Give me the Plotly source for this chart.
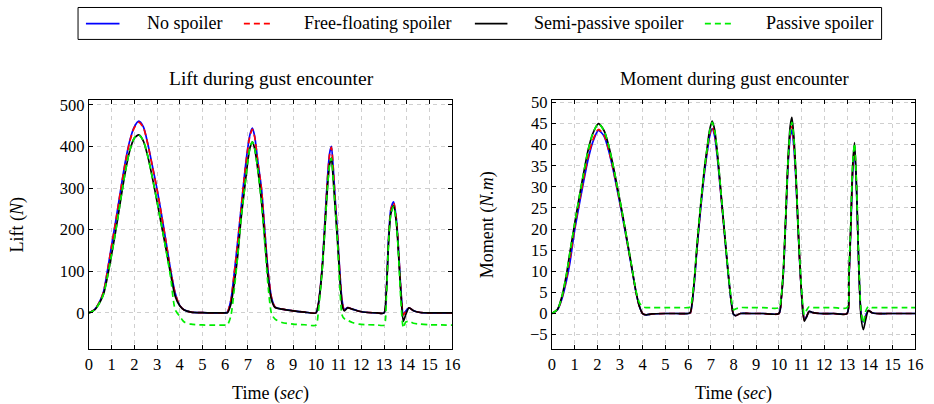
import plotly.graph_objects as go

# ---------------- data: lift ----------------
T_LIFT = [0, 0.25, 0.5, 0.65, 0.8, 1.0, 1.2, 1.4, 1.6, 1.8, 2.0, 2.2, 2.4, 2.6, 2.8, 3.0, 3.2, 3.4, 3.6, 3.8, 4.0, 4.2, 4.5, 5.0, 5.5, 6.0,
          6.1, 6.25, 6.4, 6.55, 6.7, 6.85, 7.0, 7.1, 7.2, 7.3, 7.45, 7.6, 7.75, 7.9, 8.05, 8.2, 8.5, 9.0, 9.5, 10.0,
          10.1, 10.2, 10.3, 10.4, 10.5, 10.6, 10.68, 10.76, 10.85, 10.95, 11.05, 11.15, 11.25, 11.4, 11.6, 11.9, 12.3, 12.7, 13.0,
          13.1, 13.2, 13.3, 13.42, 13.55, 13.65, 13.75, 13.85, 13.95, 14.1, 14.3, 14.6, 15.0, 15.5, 16.0]

LIFT_NO = [0, 8, 30, 52, 96, 162, 227, 296, 362, 414, 447, 461, 447, 405, 352, 298, 236, 170, 103, 48, 18, 7, 2, 0.5, 0, 0,
           2, 30, 95, 170, 250, 330, 398, 430, 444, 425, 360, 300, 195, 95, 35, 14, 9, 5, 2, 0,
           20, 65, 132, 225, 318, 383, 400, 350, 272, 190, 100, 30, 8, 13, 9, 4, 1, 0, 0,
           55, 180, 250, 267, 222, 140, 48, -3, 4, 12, 5, 1, 0, 0, 0]

LIFT_FREE = [0, 8, 30, 52, 95, 161, 226, 295, 360, 412, 445, 458, 445, 404, 351, 297, 235, 169, 102, 47, 18, 7, 2, 0.5, 0, 0,
             2, 29, 94, 168, 248, 328, 395, 427, 441, 423, 358, 298, 194, 94, 35, 14, 9, 5, 2, 0,
             20, 64, 130, 223, 315, 380, 398, 349, 271, 189, 99, 29, 6, 13, 9, 4, 1, 0, 0,
             54, 178, 248, 265, 221, 139, 46, -5, 3, 12, 5, 1, 0, 0, 0]

LIFT_SEMI = [0, 7, 27, 46, 82, 140, 203, 272, 338, 390, 420, 428, 413, 375, 324, 268, 210, 152, 93, 40, 17, 7, 2, 0.5, 0, 0,
             0, 20, 70, 135, 225, 295, 365, 398, 411, 395, 340, 270, 175, 80, 30, 13, 9, 5, 2, 0,
             18, 60, 122, 208, 295, 356, 372, 322, 250, 172, 85, 20, 5, 12, 9, 4, 1, 0, 0,
             50, 170, 238, 258, 212, 130, 40, -20, -5, 12, 5, 1, 0, 0, 0]

LIFT_PASSIVE = [0, 7, 27, 46, 82, 140, 203, 272, 338, 390, 420, 428, 413, 375, 324, 268, 210, 150, 85, 8, -8, -22, -27, -29, -29.5, -29.5,
                -29, -8, 55, 135, 225, 295, 365, 398, 411, 395, 340, 265, 165, 60, -3, -15, -23, -27, -28.5, -29.5,
                0, 55, 122, 208, 295, 356, 372, 322, 250, 170, 65, -5, -14, -18, -23, -27, -28.5, -29, -29.5,
                35, 170, 238, 256, 210, 125, 20, -36, -22, -20, -25, -27, -28.5, -29, -29.5]

# ---------------- data: moment ----------------
T_MOM = [0, 0.25, 0.45, 0.65, 0.8, 1.0, 1.2, 1.4, 1.6, 1.8, 2.05, 2.3, 2.5, 2.7, 2.9, 3.1, 3.3, 3.5, 3.7, 3.85, 4.0, 4.15, 4.4, 5.0, 5.5, 6.0,
         6.1, 6.25, 6.4, 6.55, 6.7, 6.85, 6.95, 7.06, 7.17, 7.3, 7.45, 7.6, 7.75, 7.9, 8.0, 8.1, 8.3, 8.7, 9.3, 10.0,
         10.1, 10.2, 10.3, 10.4, 10.5, 10.57, 10.65, 10.75, 10.85, 10.95, 11.05, 11.12, 11.22, 11.33, 11.5, 11.8, 12.4, 13.0,
         13.08, 13.16, 13.25, 13.33, 13.42, 13.52, 13.62, 13.72, 13.82, 13.94, 14.1, 14.3, 14.8, 15.5, 16.0]

MOM_NO = [0, 0.9, 3.6, 8.0, 12.2, 19.6, 25.6, 31.3, 36.6, 40.6, 43.4, 42.0, 38.6, 34.0, 28.7, 23.2, 17.3, 11.3, 5.2, 1.8, 0.0, -0.3, -0.1, 0, 0, 0,
          0.2, 6.0, 15.8, 24.6, 32.4, 38.5, 42.0, 43.8, 42.0, 36.4, 27.8, 19.0, 10.3, 2.8, -0.2, -0.5, 0, 0, 0, 0,
          3.3, 10.0, 22.0, 34.8, 42.0, 43.5, 40.0, 31.5, 19.3, 8.8, 1.0, -1.5, -0.7, 0.5, 0.2, 0, 0, 0,
          7.5, 19.0, 33.5, 39.0, 29.0, 10.7, 0.0, -2.0, -0.5, 0.7, 0.2, 0, 0, 0, 0]

MOM_FREE = [0, 0.95, 3.8, 8.5, 13.0, 20.2, 26.2, 31.9, 37.2, 41.0, 43.6, 42.2, 38.8, 34.2, 28.9, 23.4, 17.4, 11.4, 5.2, 1.8, 0.0, -0.3, -0.1, 0, 0, 0,
            0.2, 6.2, 16.0, 24.9, 32.8, 38.9, 42.5, 44.2, 42.4, 36.7, 28.0, 19.1, 10.4, 2.8, -0.2, -0.5, 0, 0, 0, 0,
            3.4, 10.2, 22.4, 35.4, 42.8, 44.3, 40.8, 32.0, 19.6, 8.9, 1.0, -1.6, -0.7, 0.5, 0.2, 0, 0, 0,
            7.7, 19.4, 34.0, 39.5, 29.4, 10.8, 0.0, -2.2, -0.6, 0.7, 0.2, 0, 0, 0, 0]

MOM_SEMI = [0, 1.0, 4.2, 9.5, 14.6, 21.2, 27.4, 33.3, 38.8, 42.6, 45.0, 43.3, 39.8, 35.0, 29.5, 23.9, 17.8, 11.6, 5.3, 1.8, 0.0, -0.3, -0.1, 0, 0, 0,
            0.3, 6.5, 16.5, 25.5, 33.5, 39.8, 43.5, 45.6, 43.5, 37.5, 28.5, 19.5, 10.5, 2.8, -0.2, -0.5, 0, 0, 0, 0,
            3.5, 10.5, 23.0, 36.5, 44.5, 46.5, 42.5, 33.0, 20.0, 9.0, 1.0, -1.8, -0.8, 0.5, 0.2, 0, 0, 0,
            8.0, 20.0, 35.0, 40.5, 30.0, 11.0, -1.0, -3.8, -1.5, 0.7, 0.2, 0, 0, 0, 0]

MOM_PASSIVE = [0, 1.0, 4.2, 9.5, 14.6, 21.2, 27.4, 33.3, 38.8, 42.6, 45.0, 43.3, 39.8, 35.0, 29.5, 23.9, 17.8, 11.7, 5.5, 2.6, 1.6, 1.4, 1.4, 1.4, 1.4, 1.4,
               1.6, 7.0, 16.8, 25.6, 33.4, 39.6, 43.2, 45.3, 43.3, 37.5, 28.6, 19.7, 10.8, 3.5, 0.9, 1.1, 1.4, 1.4, 1.4, 1.4,
               4.0, 11.0, 23.2, 36.0, 43.5, 45.3, 42.0, 33.0, 20.5, 9.8, 2.2, -0.3, 0.8, 1.6, 1.4, 1.4, 1.4, 1.4,
               9.0, 21.0, 35.5, 40.3, 30.5, 12.0, 0.5, -2.3, 0.5, 1.7, 1.4, 1.4, 1.4, 1.4, 1.4]

SERIES_NAMES = ["No spoiler", "Free-floating spoiler", "Semi-passive spoiler", "Passive spoiler"]
X_TICKS = list(range(0, 17))
LIFT_TICKS = [0, 100, 200, 300, 400, 500]
MOM_TICKS = [-5, 0, 5, 10, 15, 20, 25, 30, 35, 40, 45, 50]

# ---------------- styling ----------------
W, H = 934, 404
FONT = "Liberation Serif, Times New Roman, serif"
COLORS = ["#0000ff", "#ff0000", "#000000", "#00ee00"]
DASHES = ["solid", "6px,4px", "solid", "6px,4px"]
TXT = 18
LW = 1.7


def px(x):
    return x / W


def py(y):
    return 1 - y / H


fig = go.Figure()

lift_sets = [LIFT_NO, LIFT_FREE, LIFT_SEMI, LIFT_PASSIVE]
mom_sets = [MOM_NO, MOM_FREE, MOM_SEMI, MOM_PASSIVE]
for i, name in enumerate(SERIES_NAMES):
    fig.add_trace(go.Scatter(x=T_LIFT, y=lift_sets[i], mode="lines", name=name,
                             line=dict(color=COLORS[i], width=LW, dash=DASHES[i], shape="spline", smoothing=0.7),
                             showlegend=False, xaxis="x", yaxis="y"))
for i, name in enumerate(SERIES_NAMES):
    fig.add_trace(go.Scatter(x=T_MOM, y=mom_sets[i], mode="lines", name=name,
                             line=dict(color=COLORS[i], width=LW, dash=DASHES[i], shape="spline", smoothing=0.7),
                             showlegend=False, xaxis="x2", yaxis="y2"))

common_axis = dict(
    showline=True, linecolor="black", linewidth=1, mirror="ticks",
    ticks="inside", ticklen=4, tickcolor="black", tickwidth=1,
    showgrid=True, gridcolor="#cfcfcf", gridwidth=1, griddash="4px,4px",
    zeroline=False, tickfont=dict(family=FONT, size=16.5, color="black"),
)

ydom = [py(348), py(95)]
fig.update_layout(
    width=W, height=H,
    margin=dict(l=0, r=0, t=0, b=0),
    paper_bgcolor="white", plot_bgcolor="white",
    font=dict(family=FONT, size=TXT, color="black"),
    showlegend=False,
    xaxis=dict(domain=[px(86), px(454)], range=[0, 16], tickvals=X_TICKS, anchor="y",
               title=dict(text="Time (<i>sec</i>)", standoff=18, font=dict(family=FONT, size=TXT)),
               **common_axis),
    yaxis=dict(domain=ydom, range=[-86.7, 510.8], tickvals=LIFT_TICKS, anchor="x",
               title=dict(text="Lift (<i>N</i>)", standoff=31, font=dict(family=FONT, size=TXT)),
               **common_axis),
    xaxis2=dict(domain=[px(555), px(923)], range=[0, 16], tickvals=X_TICKS, anchor="y2",
                title=dict(text="Time (<i>sec</i>)", standoff=18, font=dict(family=FONT, size=TXT)),
                **common_axis),
    yaxis2=dict(domain=ydom, range=[-8.4, 50.5], tickvals=MOM_TICKS, anchor="x2",
                title=dict(text="Moment (<i>N.m</i>)", standoff=31, font=dict(family=FONT, size=TXT)),
                **common_axis),
)

# subplot titles
fig.add_annotation(text="Lift during gust encounter", x=px(271), y=py(73), xref="paper", yref="paper",
                   showarrow=False, xanchor="center", yanchor="middle", font=dict(family=FONT, size=19.5))
fig.add_annotation(text="Moment during gust encounter", x=px(740), y=py(73), xref="paper", yref="paper",
                   showarrow=False, xanchor="center", yanchor="middle", font=dict(family=FONT, size=18.5))

# legend box
fig.add_shape(type="rect", xref="paper", yref="paper", x0=px(75), x1=px(889), y0=py(33), y1=py(0.5),
              line=dict(color="black", width=1), fillcolor="white")
leg_line_x = [(83, 117), (243, 273), (477, 510), (710, 740)]
leg_text_x = [143, 302, 535, 770]
for i, name in enumerate(SERIES_NAMES):
    x0, x1 = leg_line_x[i]
    fig.add_shape(type="line", xref="paper", yref="paper", x0=px(x0), x1=px(x1), y0=py(17), y1=py(17),
                  line=dict(color=COLORS[i], width=LW, dash=DASHES[i]))
    fig.add_annotation(text=name, x=px(leg_text_x[i]), y=py(16), xref="paper", yref="paper",
                       showarrow=False, xanchor="left", yanchor="middle", font=dict(family=FONT, size=TXT))

fig.write_html(
    "out.html",
    config={"displayModeBar": False},
    post_script=("document.body.style.margin='0';document.body.style.padding='0';"
                 "var gd=document.getElementById('{plot_id}');gd.style.position='absolute';"
                 "gd.style.left='0px';gd.style.top='0px';"),
)
